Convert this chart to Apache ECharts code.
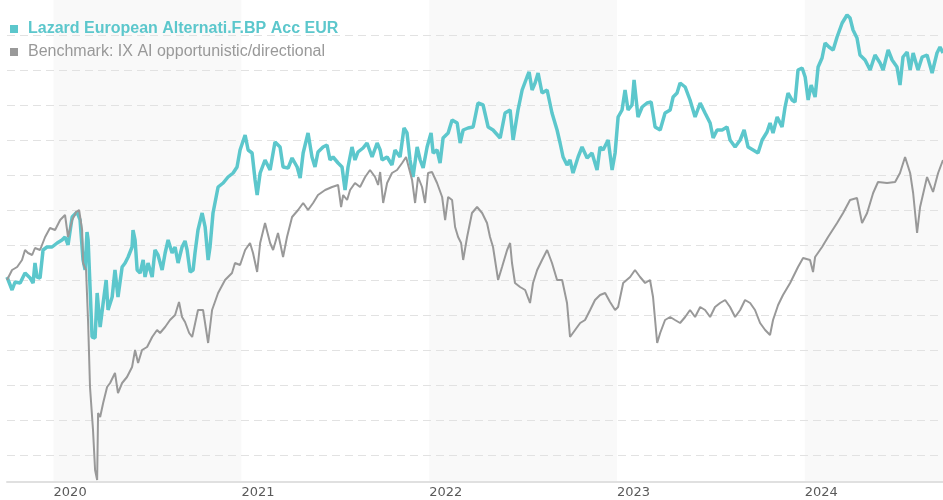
<!DOCTYPE html>
<html>
<head>
<meta charset="utf-8">
<script src="https://cdn.jsdelivr.net/npm/echarts@6/dist/echarts.min.js"></script>
<style>
  html, body { margin: 0; padding: 0; background: #fff; }
  #container { width: 943px; height: 500px; }
</style>
</head>
<body>
<div id="container"></div>
<script>
"use strict";

// 时间轴（十进制年份）
const xMin = 2019.752;
const xMax = 2024.736;
const yearLabels = [2020, 2021, 2022, 2023, 2024];
const shadedYears = [[2020, 2021], [2022, 2023], [2024, xMax]];

// 基金：Lazard European Alternati.F.BP Acc EUR
const fundName = "Lazard European Alternati.F.BP Acc EUR";
const fundT = [
  2019.752, 2019.779, 2019.795, 2019.822, 2019.848, 2019.875, 2019.891, 2019.901, 2019.912, 2019.928,
  2019.944, 2019.965, 2019.992, 2020.019, 2020.045, 2020.061, 2020.077, 2020.099, 2020.125, 2020.141,
  2020.157, 2020.168, 2020.178, 2020.184, 2020.205, 2020.221, 2020.232, 2020.248, 2020.264, 2020.280,
  2020.290, 2020.312, 2020.327, 2020.343, 2020.365, 2020.381, 2020.397, 2020.418, 2020.423, 2020.434,
  2020.445, 2020.461, 2020.477, 2020.487, 2020.503, 2020.525, 2020.540, 2020.556, 2020.578, 2020.594,
  2020.610, 2020.631, 2020.647, 2020.663, 2020.684, 2020.700, 2020.711, 2020.727, 2020.743, 2020.753,
  2020.769, 2020.791, 2020.807, 2020.823, 2020.833, 2020.849, 2020.876, 2020.903, 2020.929, 2020.956,
  2020.977, 2020.993, 2021.020, 2021.036, 2021.057, 2021.073, 2021.084, 2021.100, 2021.126, 2021.153,
  2021.179, 2021.206, 2021.222, 2021.249, 2021.270, 2021.297, 2021.313, 2021.329, 2021.355, 2021.376,
  2021.392, 2021.408, 2021.435, 2021.456, 2021.472, 2021.488, 2021.515, 2021.536, 2021.552, 2021.568,
  2021.589, 2021.605, 2021.621, 2021.648, 2021.669, 2021.696, 2021.723, 2021.739, 2021.749, 2021.776,
  2021.802, 2021.818, 2021.845, 2021.866, 2021.882, 2021.898, 2021.914, 2021.936, 2021.952, 2021.968,
  2021.989, 2022.010, 2022.021, 2022.042, 2022.058, 2022.074, 2022.101, 2022.122, 2022.149, 2022.165,
  2022.181, 2022.207, 2022.234, 2022.260, 2022.287, 2022.314, 2022.340, 2022.378, 2022.404, 2022.431,
  2022.447, 2022.473, 2022.495, 2022.521, 2022.532, 2022.548, 2022.564, 2022.580, 2022.601, 2022.628,
  2022.654, 2022.681, 2022.697, 2022.713, 2022.734, 2022.750, 2022.766, 2022.793, 2022.814, 2022.841,
  2022.867, 2022.894, 2022.910, 2022.926, 2022.953, 2022.974, 2022.990, 2023.006, 2023.027, 2023.043,
  2023.059, 2023.080, 2023.091, 2023.112, 2023.134, 2023.160, 2023.182, 2023.203, 2023.230, 2023.256,
  2023.283, 2023.299, 2023.320, 2023.336, 2023.363, 2023.389, 2023.416, 2023.443, 2023.469, 2023.496,
  2023.512, 2023.533, 2023.560, 2023.586, 2023.602, 2023.629, 2023.656, 2023.677, 2023.698, 2023.725,
  2023.751, 2023.773, 2023.799, 2023.815, 2023.831, 2023.853, 2023.879, 2023.895, 2023.911, 2023.932,
  2023.948, 2023.964, 2023.986, 2024.002, 2024.018, 2024.034, 2024.055, 2024.071, 2024.092, 2024.108,
  2024.129, 2024.151, 2024.172, 2024.199, 2024.225, 2024.241, 2024.257, 2024.278, 2024.294, 2024.321,
  2024.348, 2024.374, 2024.401, 2024.417, 2024.444, 2024.465, 2024.491, 2024.507, 2024.523, 2024.545,
  2024.561, 2024.577, 2024.603, 2024.625, 2024.651, 2024.678, 2024.704, 2024.720, 2024.736
];
const fundV = [
  98.3, 97.0, 97.8, 97.7, 98.7, 98.2, 97.7, 99.7, 98.3, 98.2,
  101.0, 101.3, 101.3, 101.7, 102.0, 102.3, 101.5, 104.3, 104.8, 104.0,
  100.0, 99.0, 102.8, 102.0, 92.3, 92.2, 96.7, 93.3, 95.7, 98.0,
  95.0, 96.3, 99.0, 96.3, 99.3, 99.7, 100.3, 101.3, 103.0, 102.0,
  99.0, 98.7, 100.0, 98.3, 99.7, 98.3, 101.0, 100.5, 99.0, 100.7,
  102.0, 100.7, 101.3, 99.7, 101.3, 101.9, 101.0, 98.8, 99.0, 100.7,
  103.0, 104.7, 103.3, 100.0, 101.3, 104.7, 107.3, 107.7, 108.3, 108.7,
  109.3, 111.0, 112.5, 111.0, 110.7, 108.0, 106.5, 108.7, 110.0, 109.0,
  111.8, 111.3, 109.3, 109.2, 110.2, 109.3, 108.2, 110.7, 112.7, 110.3,
  109.3, 110.8, 111.3, 111.5, 110.0, 110.3, 109.7, 109.3, 107.0, 109.3,
  111.3, 110.0, 110.8, 111.2, 111.7, 110.3, 111.7, 111.0, 110.0, 110.3,
  109.5, 111.0, 110.3, 113.2, 112.7, 110.0, 108.3, 111.3, 110.0, 109.2,
  111.3, 112.7, 110.7, 111.0, 109.7, 112.2, 112.7, 114.0, 113.7, 111.7,
  113.0, 113.2, 113.3, 115.7, 115.5, 113.3, 113.0, 112.2, 114.7, 115.0,
  112.0, 115.0, 117.0, 118.3, 118.8, 117.0, 117.7, 118.7, 116.7, 117.0,
  114.7, 113.0, 111.7, 110.3, 109.5, 110.0, 108.7, 110.3, 111.3, 110.2,
  110.7, 109.0, 111.3, 111.0, 112.0, 109.0, 110.7, 114.3, 115.0, 117.0,
  115.0, 115.5, 118.0, 114.3, 115.3, 115.7, 115.8, 113.3, 113.0, 114.7,
  115.0, 116.3, 116.7, 117.7, 117.3, 116.0, 114.3, 115.7, 114.7, 113.7,
  112.2, 113.0, 113.0, 113.3, 112.0, 111.3, 112.0, 113.0, 111.3, 111.0,
  110.7, 112.0, 112.8, 113.7, 112.7, 114.3, 113.3, 115.3, 116.7, 116.0,
  115.8, 119.0, 119.2, 118.3, 116.0, 117.5, 116.3, 119.3, 120.2, 121.7,
  121.3, 121.0, 122.3, 123.7, 124.5, 124.2, 123.0, 122.2, 120.5, 120.0,
  119.0, 120.5, 119.7, 119.0, 121.0, 120.0, 119.3, 117.5, 120.3, 120.8,
  119.0, 120.7, 119.0, 120.3, 120.5, 118.7, 120.7, 121.3, 120.7
];

// 基准：IX AI opportunistic/directional
const benchName = "Benchmark: IX AI opportunistic/directional";
const benchT = [
  2019.752, 2019.779, 2019.806, 2019.832, 2019.848, 2019.864, 2019.886, 2019.901, 2019.928, 2019.955,
  2019.981, 2020.008, 2020.035, 2020.061, 2020.077, 2020.099, 2020.120, 2020.136, 2020.152, 2020.157,
  2020.173, 2020.184, 2020.194, 2020.210, 2020.221, 2020.232, 2020.237, 2020.248, 2020.264, 2020.285,
  2020.301, 2020.327, 2020.343, 2020.365, 2020.391, 2020.418, 2020.434, 2020.450, 2020.471, 2020.498,
  2020.525, 2020.551, 2020.567, 2020.594, 2020.620, 2020.647, 2020.668, 2020.684, 2020.700, 2020.722,
  2020.738, 2020.769, 2020.796, 2020.823, 2020.844, 2020.876, 2020.913, 2020.950, 2020.966, 2020.993,
  2021.020, 2021.046, 2021.062, 2021.084, 2021.100, 2021.126, 2021.153, 2021.169, 2021.195, 2021.222,
  2021.243, 2021.270, 2021.302, 2021.329, 2021.355, 2021.382, 2021.408, 2021.446, 2021.483, 2021.515,
  2021.531, 2021.542, 2021.563, 2021.579, 2021.605, 2021.632, 2021.659, 2021.685, 2021.712, 2021.728,
  2021.739, 2021.755, 2021.776, 2021.802, 2021.829, 2021.856, 2021.877, 2021.888, 2021.909, 2021.925,
  2021.941, 2021.962, 2021.978, 2021.994, 2022.015, 2022.042, 2022.069, 2022.085, 2022.101, 2022.122,
  2022.138, 2022.154, 2022.170, 2022.181, 2022.202, 2022.228, 2022.255, 2022.282, 2022.308, 2022.324,
  2022.340, 2022.367, 2022.388, 2022.415, 2022.431, 2022.441, 2022.457, 2022.484, 2022.511, 2022.537,
  2022.553, 2022.575, 2022.601, 2022.628, 2022.654, 2022.681, 2022.708, 2022.734, 2022.750, 2022.777,
  2022.804, 2022.830, 2022.857, 2022.883, 2022.910, 2022.937, 2022.963, 2022.990, 2023.006, 2023.033,
  2023.070, 2023.096, 2023.123, 2023.150, 2023.176, 2023.192, 2023.214, 2023.230, 2023.256, 2023.283,
  2023.309, 2023.336, 2023.363, 2023.389, 2023.416, 2023.443, 2023.469, 2023.496, 2023.522, 2023.549,
  2023.576, 2023.602, 2023.629, 2023.656, 2023.682, 2023.709, 2023.735, 2023.762, 2023.789, 2023.815,
  2023.831, 2023.858, 2023.884, 2023.922, 2023.964, 2023.991, 2024.028, 2024.044, 2024.055, 2024.092,
  2024.124, 2024.172, 2024.204, 2024.241, 2024.278, 2024.305, 2024.332, 2024.364, 2024.390, 2024.438,
  2024.481, 2024.507, 2024.534, 2024.561, 2024.577, 2024.598, 2024.614, 2024.651, 2024.683, 2024.710,
  2024.736
];
const benchV = [
  98.0, 99.0, 99.3, 100.0, 101.0, 100.7, 100.5, 101.2, 101.0, 102.3,
  103.2, 103.0, 104.0, 104.5, 102.3, 104.0, 104.8, 105.0, 103.0, 99.7,
  99.0, 93.7, 87.3, 83.0, 79.0, 78.0, 84.7, 84.3, 85.7, 87.3,
  87.7, 88.7, 86.7, 87.7, 88.3, 89.3, 91.0, 89.7, 91.0, 91.3,
  92.3, 93.0, 92.7, 93.3, 94.0, 94.5, 95.8, 94.3, 93.8, 92.7,
  92.3, 95.0, 95.0, 91.7, 95.0, 96.7, 98.0, 98.7, 99.7, 99.5,
  101.0, 101.7, 100.7, 98.8, 101.7, 103.7, 101.7, 101.0, 102.7, 100.3,
  102.3, 104.3, 105.0, 105.7, 105.0, 105.7, 106.5, 107.0, 107.3, 107.5,
  105.3, 106.5, 106.0, 107.0, 107.7, 107.3, 108.3, 109.0, 108.3, 107.5,
  108.8, 105.7, 107.7, 108.7, 109.0, 109.7, 110.3, 109.5, 108.0, 105.7,
  108.3, 107.3, 105.7, 108.7, 108.8, 107.7, 106.3, 104.0, 106.3, 106.0,
  103.3, 102.3, 101.7, 100.0, 102.3, 104.7, 105.3, 104.7, 103.7, 102.3,
  101.3, 98.0, 99.3, 101.0, 101.7, 99.7, 97.7, 97.3, 97.0, 95.7,
  97.7, 99.0, 100.0, 101.0, 99.7, 98.0, 98.0, 95.7, 92.3, 93.0,
  93.7, 94.0, 95.0, 96.0, 96.5, 96.7, 95.8, 95.0, 95.3, 97.7,
  98.3, 99.0, 98.3, 97.7, 98.0, 96.3, 91.7, 92.7, 94.0, 94.3,
  94.0, 93.7, 94.3, 95.0, 94.3, 95.3, 95.0, 94.3, 95.3, 95.7,
  96.0, 95.3, 94.3, 95.0, 96.0, 95.7, 95.0, 93.7, 93.0, 92.5,
  94.0, 95.5, 96.5, 97.7, 99.3, 100.2, 100.0, 98.8, 100.3, 101.3,
  102.3, 103.7, 104.7, 106.0, 106.2, 103.7, 104.7, 106.7, 107.8, 107.7,
  107.8, 108.7, 110.3, 108.7, 106.7, 102.7, 105.3, 108.3, 106.8, 108.7,
  110.0
];

const fundColor = '#5cc7cc';
const benchColor = '#999999';

function zip(ts, vs) {
  return ts.map((t, i) => [t, vs[i]]);
}

let myChart = echarts.init(document.getElementById('container'));

let option = {
  animation: false,
  grid: { // 绘图区
    left: 7,
    right: 0,
    top: 0,
    bottom: 18,
  },
  legend: { // 图例
    orient: 'vertical',
    left: 5,
    top: 16,
    itemGap: 7,
    itemWidth: 8,
    itemHeight: 8,
    icon: 'rect',
    selectedMode: false,
    textStyle: {
      fontFamily: 'Liberation Sans, Arial, sans-serif',
      fontSize: 16,
      padding: [0, 0, 0, 5],
    },
    data: [
      { name: fundName, textStyle: { color: fundColor, fontWeight: 'bold' } },
      { name: benchName, textStyle: { color: benchColor, fontWeight: 'normal' } },
    ],
  },
  xAxis: {
    type: 'value',
    min: xMin,
    max: xMax,
    axisLine: {
      lineStyle: { color: '#e0e0e0', width: 2 },
    },
    axisTick: { show: false },
    splitLine: { show: false },
    axisLabel: {
      customValues: yearLabels,
      formatter: function (value) {
        return String(Math.round(value));
      },
      align: 'left',
      margin: 4,
      color: '#5a5a5a',
      fontFamily: 'DejaVu Sans, Verdana, sans-serif',
      fontSize: 13,
    },
  },
  yAxis: {
    type: 'value',
    min: 77.8,
    max: 126,
    minInterval: 3.5,
    maxInterval: 3.5,
    axisLine: { show: false },
    axisTick: { show: false },
    axisLabel: { show: false },
    splitLine: {
      show: true,
      showMinLine: false,
      showMaxLine: false,
      lineStyle: { color: '#e2e2e2', type: [8, 5], width: 1 },
    },
  },
  series: [
    { // 年份底色
      name: 'bands',
      type: 'line',
      z: -1,
      silent: true,
      symbol: 'none',
      lineStyle: { opacity: 0 },
      data: zip(fundT, fundV),
      markArea: {
        z: -1,
        silent: true,
        itemStyle: { color: '#f9f9f9' },
        data: shadedYears.map(([a, b]) => [{ xAxis: a }, { xAxis: b }]),
      },
    },
    {
      name: fundName,
      type: 'line',
      z: 2,
      symbol: 'none',
      color: fundColor,
      lineStyle: { color: fundColor, width: 3.5 },
      data: zip(fundT, fundV),
    },
    {
      name: benchName,
      type: 'line',
      z: 3,
      symbol: 'none',
      color: benchColor,
      lineStyle: { color: benchColor, width: 2 },
      data: zip(benchT, benchV),
    },
  ],
};

myChart.setOption(option);
</script>
</body>
</html>
